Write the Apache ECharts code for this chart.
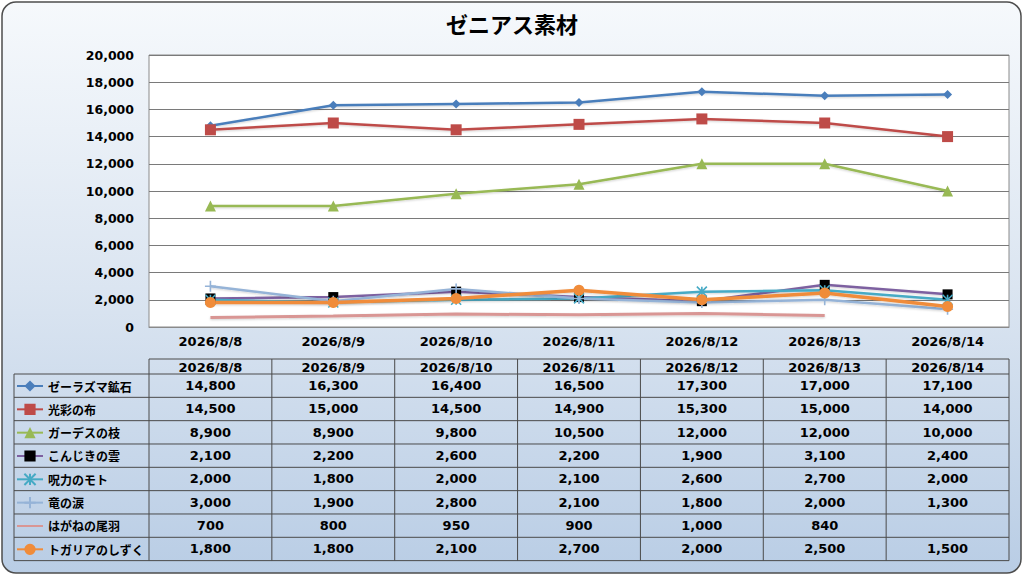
<!DOCTYPE html>
<html>
<head>
<meta charset="utf-8">
<script src="https://cdn.jsdelivr.net/npm/echarts@6/dist/echarts.min.js"></script>
<style>
html, body { margin: 0; padding: 0; background: #fff; }
#graph { width: 1024px; height: 576px; }
</style>
</head>
<body>
<div id="graph"></div>
<script>
"use strict"

const dates = ["2026/8/8", "2026/8/9", "2026/8/10", "2026/8/11", "2026/8/12", "2026/8/13", "2026/8/14"];
const names = ["ゼーラズマ鉱石", "光彩の布", "ガーデスの枝", "こんじきの雲", "呪力のモト", "竜の涙", "はがねの尾羽", "トガリアのしずく"];

const zerazuma = [14800, 16300, 16400, 16500, 17300, 17000, 17100];
const kousai   = [14500, 15000, 14500, 14900, 15300, 15000, 14000];
const gardes   = [8900, 8900, 9800, 10500, 12000, 12000, 10000];
const konjiki  = [2100, 2200, 2600, 2200, 1900, 3100, 2400];
const juryoku  = [2000, 1800, 2000, 2100, 2600, 2700, 2000];
const ryuu     = [3000, 1900, 2800, 2100, 1800, 2000, 1300];
const hagane   = [700, 800, 950, 900, 1000, 840, null];
const togaria  = [1800, 1800, 2100, 2700, 2000, 2500, 1500];

const yMin = 0, yMax = 20000, yStep = 2000;

const allData = [zerazuma, kousai, gardes, konjiki, juryoku, ryuu, hagane, togaria];

const FONT = "'DejaVu Sans', 'Noto Sans CJK JP', sans-serif";
const JFONT = "'Noto Sans CJK JP', sans-serif";
const fmt = v => v == null ? "" : v.toLocaleString("en-US");

// plot box and table rows
const PL = 149, PT = 55, PW = 860, PH = 272;
const headTop = 359, headBot = 374, rowH = 23.33, legLeft = 14;

const styles = [
    { line: "#4a7ebb", fill: "#4a7ebb", symbol: "diamond", size: 9, width: 2.5 },
    { line: "#be4b48", fill: "#be4b48", symbol: "rect", size: 11, width: 2.5 },
    { line: "#98b954", fill: "#98b954", symbol: "triangle", size: 11, width: 2.5 },
    { line: "#7d60a0", fill: "#000000", symbol: "rect", size: 10, width: 2.5 },
    { line: "#46aac5", fill: "#46aac5", symbol: "path://M0,0L10,10M10,0L0,10M5,0L5,10", size: 10, width: 2.5, stroke: true },
    { line: "#95b3d7", fill: "#95b3d7", symbol: "path://M5,0L5,10M0,5L10,5", size: 11, width: 2.5, stroke: true },
    // no marker: an unstroked diagonal keeps the legend icon a plain line
    { line: "#d99694", fill: "#d99694", symbol: "path://M0,0L10,10", size: 6, width: 3, hide: true },
    { line: "#f08c3a", fill: "#f08c3a", symbol: "circle", size: 11, width: 3.5 }
];

const series = names.map((nm, i) => {
    const st = styles[i];
    return {
        name: nm,
        type: "line",
        data: allData[i],
        symbol: st.symbol,
        symbolSize: st.size,
        showSymbol: !st.hide,
        connectNulls: false,
        lineStyle: { color: st.line, width: st.width, shadowColor: "rgba(0,0,0,0.18)", shadowBlur: 2, shadowOffsetY: 1 },
        itemStyle: st.stroke
            ? { color: st.fill, borderColor: st.fill, borderWidth: 1.6 }
            : { color: st.fill, borderWidth: 0 },
        emphasis: { disabled: true },
        animation: false
    };
});

const myChart = echarts.init(document.getElementById("graph"), null, { renderer: "svg" });

const option = {
    animation: false,
    title: {
        text: "ゼニアス素材",
        left: "center",
        top: 6,
        textStyle: { fontFamily: JFONT, fontSize: 22, fontWeight: "bold", color: "#000", lineHeight: 24 }
    },
    grid: {
        left: PL, top: PT, width: PW, height: PH,
        show: true, backgroundColor: "#ffffff", borderColor: "#8a8a8a", borderWidth: 1
    },
    xAxis: {
        type: "category",
        data: dates,
        boundaryGap: true,
        axisLine: { show: true, lineStyle: { color: "#8a8a8a" } },
        axisTick: { show: false },
        axisLabel: { margin: 8, color: "#000", fontFamily: FONT, fontSize: 13, fontWeight: "bold" }
    },
    yAxis: {
        type: "value",
        min: yMin, max: yMax, interval: yStep,
        axisLine: { show: false },
        axisTick: { show: false },
        splitLine: { lineStyle: { color: "#7a7a7a", width: 1 } },
        axisLabel: { margin: 15, color: "#000", fontFamily: FONT, fontSize: 12.5, fontWeight: "bold", formatter: v => fmt(v) }
    },
    legend: {
        orient: "vertical",
        left: legLeft + 2,
        top: headBot + 5,
        padding: 0,
        itemWidth: 26,
        itemHeight: 14,
        itemGap: 9.33,
        selectedMode: false,
        textStyle: { color: "#000", fontFamily: JFONT, fontSize: 12, fontWeight: "bold", lineHeight: 14 },
        data: names
    },
    series: series
};
myChart.setOption(option);

// data table under the plot, columns follow the category axis
const band = PW / dates.length;
const centers = dates.map((d, i) => myChart.convertToPixel({ xAxisIndex: 0 }, i));
const tableBot = headBot + rowH * names.length;
const gfx = [];
const lineSt = { stroke: "#4a4a4a", lineWidth: 1 };

gfx.push({
    type: "rect", z: -100, silent: true,
    shape: { x: 2, y: 2, width: 1019, height: 571, r: 14 },
    style: {
        stroke: "#4d4d4d", lineWidth: 1.5,
        fill: new echarts.graphic.LinearGradient(0, 0, 0, 1, [
            { offset: 0, color: "#f6f9fc" },
            { offset: 0.5, color: "#dbe5f1" },
            { offset: 1, color: "#b9cde5" }
        ])
    }
});

// header row
gfx.push({ type: "line", silent: true, shape: { x1: PL, y1: headTop, x2: PL + PW, y2: headTop }, style: lineSt });
// row lines
for (let r = 0; r <= names.length; r++)
{
    const y = headBot + r * rowH;
    gfx.push({ type: "line", silent: true, shape: { x1: legLeft, y1: y, x2: PL + PW, y2: y }, style: lineSt });
}
// column lines
gfx.push({ type: "line", silent: true, shape: { x1: legLeft, y1: headBot, x2: legLeft, y2: tableBot }, style: lineSt });
centers.forEach((cx, i) =>
{
    gfx.push({ type: "line", silent: true, shape: { x1: cx - band / 2, y1: headTop, x2: cx - band / 2, y2: tableBot }, style: lineSt });
    if (i === centers.length - 1)
        gfx.push({ type: "line", silent: true, shape: { x1: cx + band / 2, y1: headTop, x2: cx + band / 2, y2: tableBot }, style: lineSt });
    gfx.push({
        type: "text", silent: true, x: cx, y: (headTop + headBot) / 2 + 0.5,
        style: { text: dates[i], fill: "#000", font: "bold 13px " + FONT, align: "center", verticalAlign: "middle" }
    });
    allData.forEach((arr, r) =>
    {
        gfx.push({
            type: "text", silent: true, x: cx, y: headBot + rowH * r + rowH / 2,
            style: { text: fmt(arr[i]), fill: "#000", font: "bold 13px " + FONT, align: "center", verticalAlign: "middle" }
        });
    });
});

myChart.setOption({ graphic: gfx });
</script>
</body>
</html>
